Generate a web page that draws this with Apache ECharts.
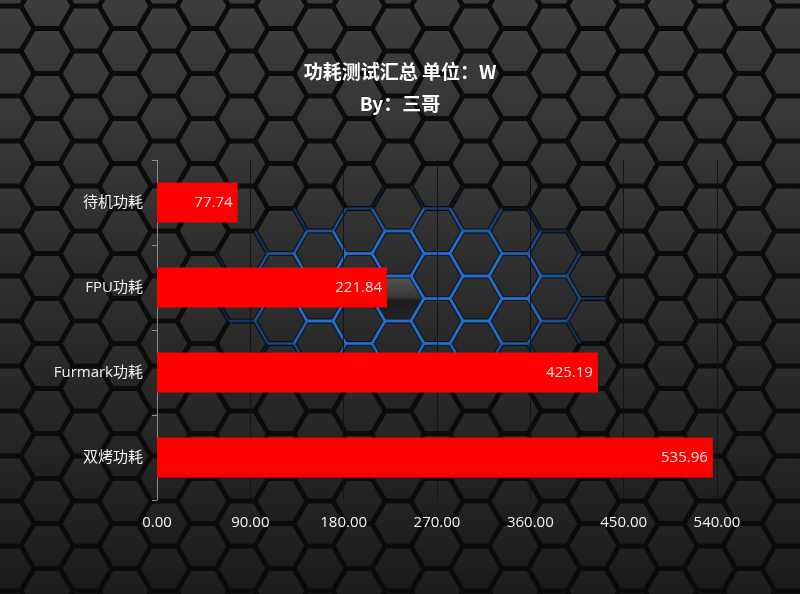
<!DOCTYPE html>
<html><head><meta charset="utf-8">
<script src="https://cdn.jsdelivr.net/npm/echarts@6/dist/echarts.min.js"></script>
<style>
html,body{margin:0;padding:0;background:#111;overflow:hidden}
#bg{position:absolute;left:0;top:0}
#main{position:absolute;left:0;top:0;width:800px;height:594px}
</style>
</head><body>
<canvas id="bg" width="800" height="594"></canvas>
<div id="main"></div>
<script>
// ---- data ----
const categories = ['待机功耗', 'FPU功耗', 'Furmark功耗', '双烤功耗'];
const values = [77.74, 221.84, 425.19, 535.96];
const titleLines = ['功耗测试汇总 单位：W', 'By：三哥'];
const xMin = 0, xMax = 540, xInterval = 90;

// ---- decorative hexagon background ----
(function drawBg() {
  const c = document.getElementById('bg');
  const ctx = c.getContext('2d');
  ctx.fillStyle = '#0b0b0b';
  ctx.fillRect(0, 0, 800, 594);
  const colW = 39, rowH = 45, R = 26;
  const x0 = 281, y0 = 186;
  function hexPath(cx, cy, r) {
    ctx.beginPath();
    for (let k = 0; k < 6; k++) {
      const a = Math.PI / 3 * k;
      const px = cx + r * Math.cos(a), py = cy + r * Math.sin(a);
      if (k === 0) ctx.moveTo(px, py); else ctx.lineTo(px, py);
    }
    ctx.closePath();
  }
  const hexes = [];
  for (let j = -9; j <= 14; j++) {
    const cx = x0 + j * colW;
    const off = (Math.abs(j) % 2 === 1) ? rowH / 2 : 0;
    for (let k = -6; k <= 10; k++) {
      const cy = y0 + off + k * rowH;
      if (cx < -40 || cx > 840 || cy < -40 || cy > 640) continue;
      hexes.push([cx, cy]);
    }
  }
  // blue glow in gaps (per edge)
  hexes.forEach(([cx, cy]) => {
    for (let k = 0; k < 6; k++) {
      const a1 = Math.PI / 3 * k, a2 = Math.PI / 3 * (k + 1);
      const ex = cx + R * 0.85 * Math.cos((a1 + a2) / 2);
      const ey = cy + R * 0.85 * Math.sin((a1 + a2) / 2);
      const dx = (ex - 410) / 205, dy = (ey - 292) / 100;
      let a = 1.0 * (1 - dx * dx - dy * dy);
      if (a <= 0) continue;
      a = Math.min(0.7, a);
      ctx.beginPath();
      ctx.moveTo(cx + (R - 0.5) * Math.cos(a1), cy + (R - 0.5) * Math.sin(a1));
      ctx.lineTo(cx + (R - 0.5) * Math.cos(a2), cy + (R - 0.5) * Math.sin(a2));
      ctx.lineWidth = 2.4;
      ctx.strokeStyle = 'rgba(40,125,235,' + a.toFixed(3) + ')';
      ctx.stroke();
    }
  });
  // hex tiles
  hexes.forEach(([cx, cy]) => {
    const L = Math.round(60 - (cy / 594) * 32);
    const g = ctx.createLinearGradient(0, cy - R, 0, cy + R);
    g.addColorStop(0, 'rgb(' + (L + 5) + ',' + (L + 5) + ',' + (L + 5) + ')');
    g.addColorStop(1, 'rgb(' + (L - 4) + ',' + (L - 4) + ',' + (L - 4) + ')');
    hexPath(cx, cy, R - 2.8);
    ctx.fillStyle = g;
    ctx.fill();
  });
  // the "pressed" hex in the glow centre
  const pg = ctx.createLinearGradient(0, 298.5 - R, 0, 298.5 + R);
  pg.addColorStop(0, '#5a5a5a');
  pg.addColorStop(0.45, '#3a3a3a');
  pg.addColorStop(0.55, '#1c1c1c');
  pg.addColorStop(1, '#262626');
  hexPath(398, 298.5, R - 2.8);
  ctx.fillStyle = pg;
  ctx.fill();
})();

// ---- chart ----
const FONT = "'Open Sans','Noto Sans CJK SC',sans-serif";
const TFONT = "'Noto Sans CJK SC',sans-serif";
const chart = echarts.init(document.getElementById('main'), null, { renderer: 'canvas' });
chart.setOption({
  backgroundColor: 'transparent',
  animation: false,
  title: titleLines.map((t, i) => ({
    text: t,
    left: 'center',
    top: 60 + i * 32,
    padding: 0,
    textStyle: {
      color: '#ffffff',
      fontSize: 19,
      fontWeight: 'bold',
      lineHeight: 24,
      fontFamily: TFONT
    }
  })),
  grid: { left: 157, right: 83, top: 160, bottom: 94, containLabel: false },
  xAxis: {
    type: 'value',
    min: xMin,
    max: xMax,
    interval: xInterval,
    axisLine: { show: false },
    axisTick: { show: false },
    splitLine: { show: true, lineStyle: { color: 'rgba(18,18,18,0.85)', width: 1 } },
    axisLabel: {
      color: '#f2f2f2',
      fontSize: 15,
      fontFamily: FONT,
      margin: 15,
      formatter: v => v.toFixed(2)
    }
  },
  yAxis: {
    type: 'category',
    data: categories,
    inverse: true,
    axisLine: { show: true, lineStyle: { color: '#8c8c8c', width: 1 } },
    axisTick: { show: true, length: 5, lineStyle: { color: '#8c8c8c' } },
    axisLabel: { color: '#f2f2f2', fontSize: 15, fontFamily: FONT, margin: 14 },
    splitLine: { show: false }
  },
  series: [{
    type: 'bar',
    data: values,
    barWidth: 40,
    itemStyle: { color: '#ff0000' },
    label: {
      show: true,
      position: 'insideRight',
      distance: 5,
      color: '#fbe6df',
      fontSize: 15,
      fontFamily: FONT,
      formatter: p => p.value.toFixed(2)
    }
  }]
});
</script>
</body></html>
